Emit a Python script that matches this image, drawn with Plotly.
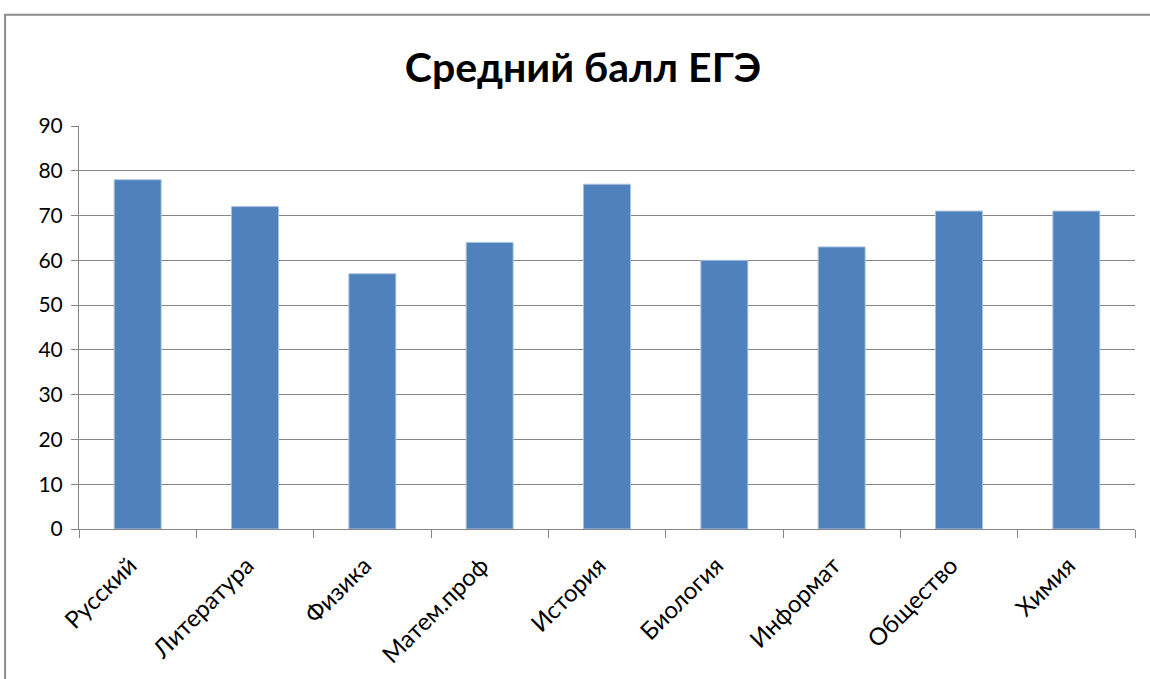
import plotly.graph_objects as go

categories = ["Русский", "Литература", "Физика", "Матем.проф", "История",
              "Биология", "Информат", "Общество", "Химия"]
scores = [78, 72, 57, 64, 77, 60, 63, 71, 71]
y_ticks = [0, 10, 20, 30, 40, 50, 60, 70, 80, 90]

fig = go.Figure()
fig.add_trace(go.Bar(
    x=categories, y=scores,
    marker=dict(color="#4F81BD", line=dict(color="#A9C2E0", width=1)),
    hoverinfo="x+y",
))

axis_gray = "#868686"
fig.update_layout(
    width=1150, height=679,
    paper_bgcolor="white", plot_bgcolor="white",
    margin=dict(l=79, r=15, t=126, b=150),
    bargap=0.6,
    showlegend=False,
    font=dict(family="Lato", color="black"),
    title=dict(text="<b>Средний балл ЕГЭ</b>", x=0.507, xanchor="center",
               y=0.9, yanchor="middle",
               font=dict(family="Lato", size=41, color="black")),
    xaxis=dict(
        tickangle=-45, tickson="boundaries", ticks="outside", ticklen=8,
        tickcolor=axis_gray, showline=True, linecolor=axis_gray, linewidth=1,
        showgrid=False, tickfont=dict(size=24, family="Lato"),
        ticklabelshift=-8, ticklabelstandoff=12,
    ),
    yaxis=dict(
        range=[0, 90], tickvals=y_ticks, ticks="outside", ticklen=7,
        tickcolor=axis_gray, showline=True, linecolor=axis_gray, linewidth=1,
        showgrid=True, gridcolor=axis_gray, gridwidth=1, zeroline=False,
        tickfont=dict(size=21, family="Lato"), ticklabelstandoff=4,
    ),
    shapes=[dict(type="rect", xref="paper", yref="paper",
                 x0=-0.070, x1=1.016, y0=-0.39, y1=1.276,
                 line=dict(color="#8c8c8c", width=2), fillcolor="rgba(0,0,0,0)",
                 layer="below")],
)

fig.write_html("out.html", config={"displayModeBar": False},
               post_script="document.body.style.margin='0';")
